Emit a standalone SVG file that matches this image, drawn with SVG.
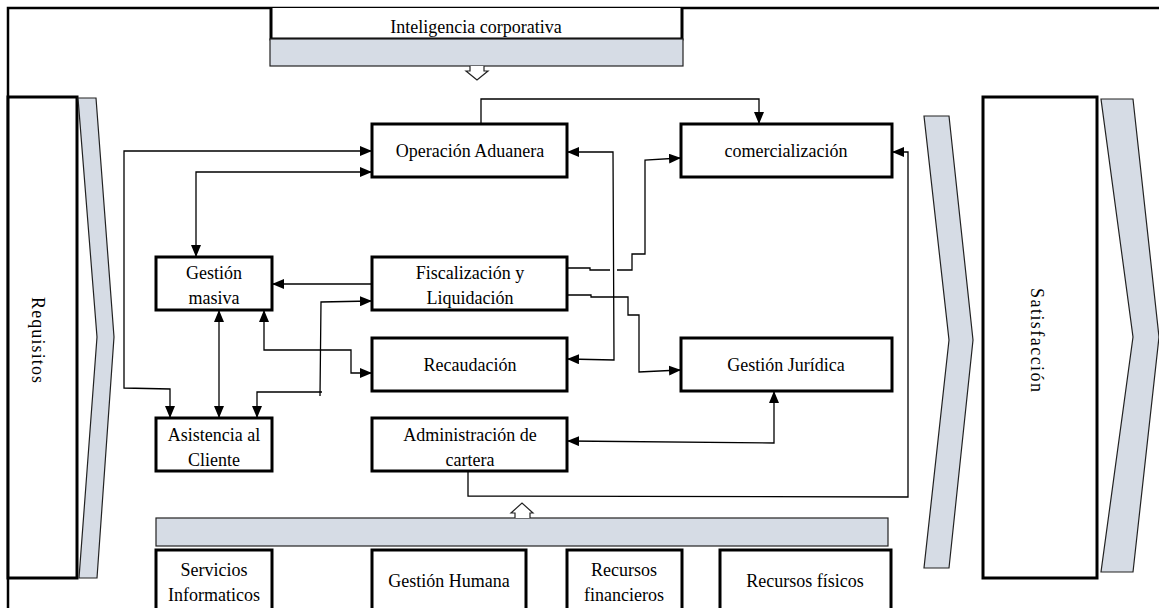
<svg xmlns="http://www.w3.org/2000/svg" width="1159" height="608" viewBox="0 0 1159 608" font-family="'Liberation Serif', 'DejaVu Serif', serif">
<style>
.box{fill:#fff;stroke:#000;stroke-width:3}
.gray{fill:#d6dce5;stroke:#222;stroke-width:1.2}
.t{font-family:'Liberation Serif','DejaVu Serif',serif;font-size:18px;fill:#000;text-anchor:middle}
.c{fill:none;stroke:#000;stroke-width:1.3}
.ae{marker-end:url(#ah)}
.as{marker-start:url(#ah)}
</style>
<defs>
<marker id="ah" markerUnits="userSpaceOnUse" markerWidth="12" markerHeight="10" refX="11" refY="5" orient="auto-start-reverse" viewBox="0 0 12 10">
<path d="M0,0 L12,5 L0,10 Z" fill="#000"/>
</marker>
</defs>
<rect width="1159" height="608" fill="#fff"/>
<path d="M8,608 L8,8 L1159,8" fill="none" stroke="#000" stroke-width="2.5"/>

<g id="inteligencia">
<path class="box" d="M271,8 L271,39 L682,39 L682,8"/>
<text class="t" x="476" y="33">Inteligencia corporativa</text>
<rect class="gray" x="270" y="39" width="413" height="27"/>
<path d="M470,66 L470,71 L466,71 L477,80 L488,71 L484,71 L484,66" fill="#fff" stroke="#222" stroke-width="1.2"/>
</g>

<g id="requisitos">
<rect class="box" x="8" y="97" width="69" height="481"/>
<text class="t" transform="translate(38,340) rotate(90)" y="6" textLength="86" lengthAdjust="spacing">Requisitos</text>
<path class="gray" d="M78,98 L96,98 L114,337 L97,578 L79,578 L97,337 Z"/>
</g>

<g id="satisfaccion">
<path class="gray" d="M924,116 L949,116 L973,340 L949,568 L924,568 L949,340 Z"/>
<rect class="box" x="983" y="97" width="114" height="481"/>
<text class="t" transform="translate(1037,340) rotate(90)" y="6" textLength="104" lengthAdjust="spacing">Satisfacción</text>
<path class="gray" d="M1101,99 L1133,99 L1159,337 L1133,572 L1101,572 L1133,337 Z"/>
</g>

<g id="operacion">
<rect class="box" x="372" y="124" width="195" height="53"/>
<text class="t" x="470" y="157">Operación Aduanera</text>
</g>
<g id="comercializacion">
<rect class="box" x="681" y="124" width="211" height="53"/>
<text class="t" x="786" y="157">comercialización</text>
</g>
<g id="gestion-masiva">
<rect class="box" x="156" y="257" width="116" height="53"/>
<text class="t" x="214" y="279">Gestión</text>
<text class="t" x="214" y="304">masiva</text>
</g>
<g id="fiscalizacion">
<rect class="box" x="372" y="257" width="195" height="53"/>
<text class="t" x="470" y="279">Fiscalización y</text>
<text class="t" x="470" y="304">Liquidación</text>
</g>
<g id="recaudacion">
<rect class="box" x="372" y="338" width="195" height="53"/>
<text class="t" x="470" y="371">Recaudación</text>
</g>
<g id="gestion-juridica">
<rect class="box" x="681" y="338" width="211" height="53"/>
<text class="t" x="786" y="371">Gestión Jurídica</text>
</g>
<g id="asistencia">
<rect class="box" x="156" y="418" width="116" height="53"/>
<text class="t" x="214" y="441">Asistencia al</text>
<text class="t" x="214" y="466">Cliente</text>
</g>
<g id="administracion">
<rect class="box" x="372" y="418" width="195" height="53"/>
<text class="t" x="470" y="441">Administración de</text>
<text class="t" x="470" y="466">cartera</text>
</g>

<g id="recursos-bar">
<rect class="gray" x="156" y="518" width="732" height="28"/>
<path d="M515,518 L515,513 L511,513 L522,503 L533,513 L530,513 L530,518" fill="#fff" stroke="#222" stroke-width="1.2"/>
</g>
<g id="servicios">
<rect class="box" x="156" y="550" width="116" height="70"/>
<text class="t" x="214" y="576">Servicios</text>
<text class="t" x="214" y="601">Informaticos</text>
</g>
<g id="gestion-humana">
<rect class="box" x="372" y="550" width="154" height="70"/>
<text class="t" x="449" y="587">Gestión Humana</text>
</g>
<g id="recursos-financieros">
<rect class="box" x="567" y="550" width="115" height="70"/>
<text class="t" x="624" y="576">Recursos</text>
<text class="t" x="624" y="601">financieros</text>
</g>
<g id="recursos-fisicos">
<rect class="box" x="720" y="550" width="171" height="70"/>
<text class="t" x="805" y="587">Recursos físicos</text>
</g>

<g id="connectors">
<path class="c as ae" d="M371,151 L124,151 L124,388 L170,389 L170,417"/>
<path class="c as ae" d="M371,172 L196,172 L196,256"/>
<path class="c ae" d="M372,284 L273,284"/>
<path class="c as ae" d="M219,311 L219,417"/>
<path class="c ae" d="M322,392 L257,392 L257,417"/>
<path class="c ae" d="M320,396 L321,302 L371,301"/>
<path class="c as ae" d="M264,311 L264,350 L351,350 L351,373 L371,373"/>
<path class="c as ae" d="M568,152 L613,152 L614,360 L568,359"/>
<path class="c ae" d="M567,268 L590,268 L590,270 L610,270 M617,270 L632,270 L632,254 L645,254 L645,160 L680,158"/>
<path class="c ae" d="M567,295 L591,295 L591,297 L628,297 L628,315 L639,315 L639,372 L680,370"/>
<path class="c as ae" d="M774,392 L774,443 L568,441"/>
<path class="c ae" d="M468,471 L468,496 L908,497 L908,152 L893,152"/>
<path class="c ae" d="M481,124 L481,99 L759,99 L759,123"/>
</g>
</svg>
